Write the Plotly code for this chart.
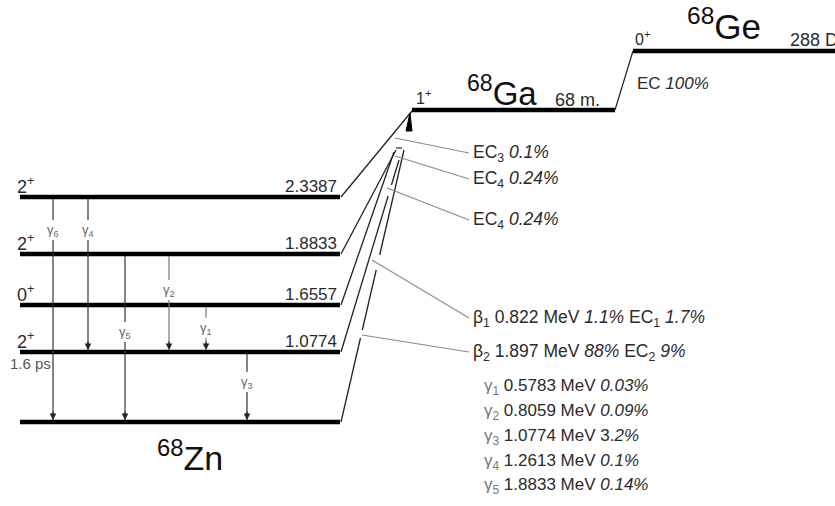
import plotly.graph_objects as go

# ---------------- data ----------------
zn_energy = ["2.3387", "1.8833", "1.6557", "1.0774", ""]
zn_spin = ["2", "2", "0", "2", ""]
zn_row = [197, 254, 305, 352, 422]          # diagram rows of the 68Zn levels

gamma_name = ["6", "4", "5", "2", "1", "3"]
gamma_from = [0, 0, 1, 1, 2, 3]
gamma_to = [4, 3, 4, 3, 3, 4]
gamma_col = [53, 88, 125, 169, 206, 247]
gamma_label_row = [230, 230, 332, 290, 328, 382]

branch_text = [
    "EC<sub>3</sub> <i>0.1%</i>",
    "EC<sub>4</sub> <i>0.24%</i>",
    "EC<sub>4</sub> <i>0.24%</i>",
    "β<sub>1</sub> 0.822 MeV <i>1.1%</i> EC<sub>1</sub> <i>1.7%</i>",
    "β<sub>2</sub> 1.897 MeV <i>88%</i> EC<sub>2</sub> <i>9%</i>",
]
branch_row = [153, 179, 220, 318, 352]
branch_from = [(395, 138), (395, 156), (387, 188), (372, 260), (362, 335)]

gamma_list_idx = ["1", "2", "3", "4", "5"]
gamma_list_energy = ["0.5783", "0.8059", "1.0774", "1.2613", "1.8833"]
gamma_list_pct = ["<i>0.03%</i>", "<i>0.09%</i>", "3.<i>2%</i>", "<i>0.1%</i>", "<i>0.14%</i>"]
gamma_list_row = [387, 412, 437, 462, 486]

# fan lines from 68Ga to each 68Zn level: (top point, level index, gaps)
fan = [
    ((412, 111), 0, []),
    ((396, 150), 1, []),
    ((394, 152), 2, []),
    ((399, 160), 3, [(185, 196)]),
    ((404, 150), 4, [(255, 270), (330, 338)]),
]

ga_row, ga_x = 110, (412, 615)
ge_row, ge_x = 51, (633, 835)

FONT = "Liberation Sans, Arial, sans-serif"
DARK = "#111111"
TXT = "#2b2b2b"
GRAY = "#7a7a7a"

fig = go.Figure()
shapes = []
ann = []


def line(x0, y0, x1, y1, color=DARK, width=1.2):
    shapes.append(dict(type="line", xref="x", yref="y", x0=x0, y0=y0, x1=x1, y1=y1,
                       line=dict(color=color, width=width)))


def text(x, y, s, size=15, color=TXT, xanchor="left", yanchor="middle"):
    ann.append(dict(x=x, y=y, xref="x", yref="y", text=s, showarrow=False,
                    xanchor=xanchor, yanchor=yanchor,
                    font=dict(family=FONT, size=size, color=color)))


# Zn levels
ZN_X0, ZN_X1 = 20, 340
for e, s, r in zip(zn_energy, zn_spin, zn_row):
    line(ZN_X0, r, ZN_X1, r, "#000000", 4.5)
    if e:
        text(339, r - 11, e, 17, TXT, "right")
    if s:
        text(15, r - 12, s + "<sup>+</sup>", 18, TXT)

text(8, 363, "1.6 ps", 15, "#555555")
text(190, 455, "<sup>68</sup>Zn", 34, "#111111", "center")

# gamma transitions
for name, f, t, c, lr in zip(gamma_name, gamma_from, gamma_to, gamma_col, gamma_label_row):
    y0, y1 = zn_row[f] + 2, zn_row[t] - 2
    col = GRAY if t == 3 and f != 0 else "#333333"
    line(c, y0, c, lr - 10, col, 1.2)
    line(c, lr + 10, c, y1, col, 1.2)
    ann.append(dict(x=c, y=y1, ax=c, ay=y1 - 10, xref="x", yref="y", axref="x", ayref="y",
                    text="", showarrow=True, arrowhead=2, arrowsize=1.1, arrowwidth=1.2,
                    arrowcolor="#222222"))
    text(c, lr, "γ<sub>" + name + "</sub>", 13, "#666666", "center")

# fan of decay lines
for (tx, ty), lvl, gaps in fan:
    bx, by = ZN_X1 + 1, zn_row[lvl]
    pts = [ty]
    for g0, g1 in gaps:
        pts += [g0, g1]
    pts.append(by)

    def xat(y):
        return tx + (bx - tx) * (y - ty) / (by - ty)

    for i in range(0, len(pts), 2):
        line(xat(pts[i]), pts[i], xat(pts[i + 1]), pts[i + 1], "#222222", 1.3)

# small arrow head under Ga level
shapes.append(dict(type="path", xref="x", yref="y",
                   path="M 410 113 L 406 131 L 412 131 Z",
                   fillcolor="#000000", line=dict(color="#000000", width=1)))
line(396, 148, 402, 148, "#555555", 1.5)

# Ga and Ge levels
line(ga_x[0], ga_row, ga_x[1], ga_row, "#000000", 4.5)
line(ge_x[0], ge_row, ge_x[1], ge_row, "#000000", 4.5)
line(ga_x[1], ga_row, ge_x[0], ge_row, "#222222", 1.2)
text(414, 97, "1<sup>+</sup>", 16, TXT)
text(465, 91, "<sup>68</sup>Ga", 33, "#111111")
text(553, 100, "68 m.", 18, TXT)
text(633, 38, "0<sup>+</sup>", 16, TXT)
text(685, 24, "<sup>68</sup>Ge", 35, "#111111")
text(788, 40, "288 D", 18, TXT)
text(635, 83, "EC <i>100%</i>", 17, TXT)

# branch labels with leaders
for s, r, (fx, fy) in zip(branch_text, branch_row, branch_from):
    line(fx, fy, 469, r, "#8a8a8a", 1.1)
    text(471, r, s, 17.5, TXT)

for i, e, p, r in zip(gamma_list_idx, gamma_list_energy, gamma_list_pct, gamma_list_row):
    text(482, r, "<span style='color:#777'>γ<sub>" + i + "</sub></span> " + e + " MeV " + p, 17, TXT)

fig.update_layout(
    width=835, height=506, margin=dict(l=0, r=0, t=0, b=0),
    paper_bgcolor="white", plot_bgcolor="white",
    xaxis=dict(range=[0, 835], visible=False, fixedrange=True),
    yaxis=dict(range=[506, 0], visible=False, fixedrange=True),
    shapes=shapes, annotations=ann, showlegend=False,
)
fig.write_html("out.html")
